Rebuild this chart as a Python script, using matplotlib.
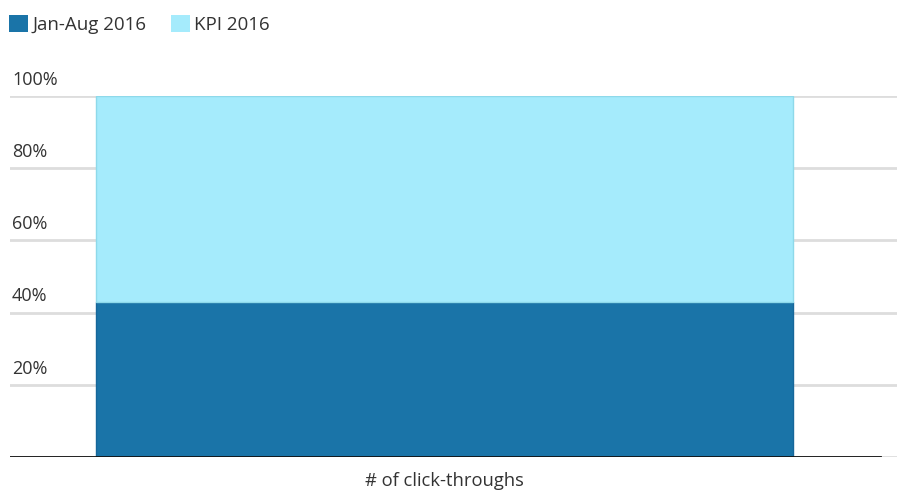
import matplotlib
matplotlib.use("Agg")
import matplotlib.pyplot as plt
from matplotlib.patches import Patch

plt.rcParams['font.family'] = ['Open Sans', 'DejaVu Sans']

categories = ["# of click-throughs"]
series_names = ["Jan-Aug 2016", "KPI 2016"]
jan_aug = [42.9]
kpi = [57.1]
yticks = [20, 40, 60, 80, 100]
ytick_labels = ["20%", "40%", "60%", "80%", "100%"]

colors = ["#1a74a8", "#a5ebfc"]
edges = ["#16679a", "#8ed9ea"]

W, H = 897, 490
fig = plt.figure(figsize=(W / 100, H / 100), dpi=100)
ax = fig.add_axes([10 / W, 33 / H, 887 / W, 361 / H])

x = list(range(len(categories)))
ax.bar(x, jan_aug, width=0.8, color=colors[0], edgecolor=edges[0], linewidth=1, zorder=3)
ax.bar(x, kpi, width=0.8, bottom=jan_aug, color=colors[1], edgecolor=edges[1], linewidth=1, zorder=3)

ax.set_xlim(-0.4987, 0.5194)
ax.set_ylim(0, 100)

for v in yticks:
    ax.axhline(v, color="#dddddd", linewidth=2, zorder=1)
ax.axhline(0, color="#dddddd", linewidth=2, zorder=1)
ax.axhline(0, xmin=0, xmax=870 / 887, color="#111111", linewidth=2, zorder=4)

for v, lab in zip(yticks, ytick_labels):
    ax.text(2 / 887, v + 2.0, lab, transform=ax.get_yaxis_transform(),
            ha="left", va="bottom", fontsize=13, color="#333333")

ax.set_yticks([])
ax.set_xticks(x)
ax.set_xticklabels(categories, fontsize=13.2, color="#333333")
ax.tick_params(axis="x", length=0, pad=11)
for s in ax.spines.values():
    s.set_visible(False)

handles = [Patch(facecolor=colors[0], edgecolor="none"),
           Patch(facecolor=colors[1], edgecolor="none")]
fig.legend(handles, series_names, loc="upper left", bbox_to_anchor=(9 / W, 1 - 15 / H),
           ncol=2, frameon=False, fontsize=13.5, handlelength=1.0, handleheight=1.0,
           handletextpad=0.25, columnspacing=1.3, borderaxespad=0, borderpad=0.0,
           labelcolor="#333333")

fig.savefig("out.png", dpi=100, facecolor="white")
